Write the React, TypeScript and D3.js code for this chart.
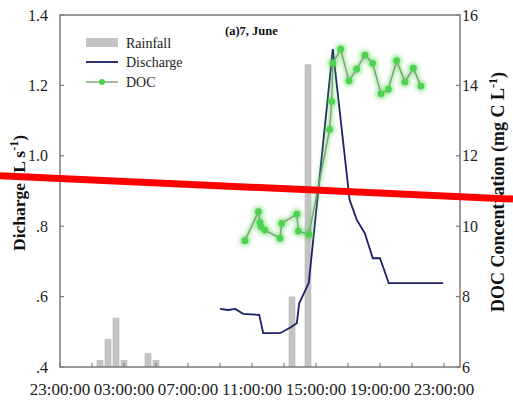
import React from "react";
import * as d3 from "d3";

// Hours are counted from midnight of 7 June; -1 is 23:00 of the day before.
const rainHours = [1.5, 2.0, 2.5, 3.0, 4.5, 5.0, 13.5, 14.5];
const rainMm = [0.2, 0.8, 1.4, 0.2, 0.4, 0.2, 2.0, 8.6];

const dischargeHours = [9.0, 9.5, 9.95, 10.45, 11.45, 11.7, 12.75, 13.4, 13.8, 13.95, 14.55, 16.05, 17.1, 17.55, 18.05, 18.55, 19.0, 19.55, 22.95];
const dischargeLs = [0.565, 0.562, 0.565, 0.551, 0.548, 0.496, 0.496, 0.512, 0.524, 0.581, 0.639, 1.303, 0.875, 0.818, 0.78, 0.709, 0.709, 0.638, 0.638];

const docHours = [10.56, 11.4, 11.5, 11.55, 11.8, 12.75, 12.86, 13.8, 13.9, 14.56, 15.85, 15.98, 16.05, 16.54, 17.06, 17.54, 18.06, 18.54, 19.06, 19.52, 20.04, 20.56, 21.08, 21.56];
const docMg = [9.59, 10.41, 10.11, 9.99, 9.89, 9.66, 10.08, 10.34, 9.86, 9.77, 12.75, 13.54, 14.63, 15.03, 14.13, 14.46, 14.86, 14.63, 13.76, 13.89, 14.7, 14.1, 14.49, 13.98];

const dischargeTicks = [0.4, 0.6, 0.8, 1.0, 1.2, 1.4];
const docTicks = [6, 8, 10, 12, 14, 16];
const hourTicks = [-1, 1, 3, 5, 7, 9, 11, 13, 15, 17, 19, 21, 23];
const hourLabels = [-1, 3, 7, 11, 15, 19, 23];

// Straight red marker line laid across the figure (hour, discharge)
const markerHours = [-4.75, 27.31];
const markerLs = [0.943, 0.877];

const W = 513;
const H = 404;
const M = { left: 60, right: 460, top: 15, bottom: 367 };
const SERIF = "'Liberation Serif', 'Times New Roman', serif";

export default function App() {
  const x = d3.scaleLinear().domain([-1, 24]).range([M.left, M.right]);
  const yQ = d3.scaleLinear().domain([0.4, 1.4]).range([M.bottom, M.top]);
  const yDoc = d3.scaleLinear().domain([6, 16]).range([M.bottom, M.top]);
  const yRain = d3.scaleLinear().domain([0, 10]).range([M.bottom, M.top]);

  const barW = x(0.42) - x(0);

  const qLine = d3
    .line<number>()
    .x((_, i) => x(dischargeHours[i]))
    .y((d) => yQ(d));
  const docLine = d3
    .line<number>()
    .x((_, i) => x(docHours[i]))
    .y((d) => yDoc(d));

  const fmtQ = (v: number) => v.toFixed(1).replace(/^0/, "");
  const fmtHour = (h: number) => `${String((h + 24) % 24).padStart(2, "0")}:00:00`;

  const frame = "#7a7a7a";
  const navy = "#1c2066";
  const green = "#4fd24f";

  return (
    <svg
      width={W}
      height={H}
      style={{ position: "absolute", left: 0, top: 0, background: "#fff" }}
      fontFamily={SERIF}
    >
      <defs>
        <filter id="glow" x="-10%" y="-10%" width="120%" height="120%">
          <feGaussianBlur stdDeviation="2.2" />
        </filter>
      </defs>

      {/* rainfall bars */}
      {rainMm.map((v, i) => (
        <rect
          key={`r${i}`}
          x={x(rainHours[i]) - barW / 2}
          y={yRain(v)}
          width={barW}
          height={yRain(0) - yRain(v)}
          fill="#c3c3c3"
        />
      ))}

      {/* discharge */}
      <path d={qLine(dischargeLs) ?? ""} fill="none" stroke={navy} strokeWidth={1.8} />

      {/* DOC with soft halo */}
      <g filter="url(#glow)" opacity={0.55}>
        <path d={docLine(docMg) ?? ""} fill="none" stroke={green} strokeWidth={4} />
        {docMg.map((v, i) => (
          <circle key={`g${i}`} cx={x(docHours[i])} cy={yDoc(v)} r={5.5} fill={green} />
        ))}
      </g>
      <path d={docLine(docMg) ?? ""} fill="none" stroke="#7e9e76" strokeWidth={1.4} />
      {docMg.map((v, i) => (
        <circle key={`d${i}`} cx={x(docHours[i])} cy={yDoc(v)} r={3.4} fill={green} />
      ))}

      {/* frame */}
      <rect
        x={M.left}
        y={M.top}
        width={M.right - M.left}
        height={M.bottom - M.top}
        fill="none"
        stroke={frame}
        strokeWidth={1.5}
      />

      {/* left axis */}
      {dischargeTicks.map((v) => (
        <g key={`lq${v}`}>
          <line x1={M.left} x2={M.left + 4} y1={yQ(v)} y2={yQ(v)} stroke={frame} strokeWidth={1.2} />
          <text x={48} y={yQ(v)} dy="0.35em" textAnchor="end" fontSize={16} fill="#222">
            {fmtQ(v)}
          </text>
        </g>
      ))}

      {/* right axis */}
      {docTicks.map((v) => (
        <g key={`rd${v}`}>
          <line x1={M.right - 4} x2={M.right} y1={yDoc(v)} y2={yDoc(v)} stroke={frame} strokeWidth={1.2} />
          <text x={M.right + 2} y={yDoc(v)} dy="0.35em" textAnchor="start" fontSize={16} fill="#222">
            {v}
          </text>
        </g>
      ))}

      {/* bottom axis */}
      {hourTicks.map((h) => (
        <line key={`bt${h}`} x1={x(h)} x2={x(h)} y1={M.bottom} y2={M.bottom - 4} stroke={frame} strokeWidth={1.2} />
      ))}
      {hourLabels.map((h) => (
        <text key={`bl${h}`} x={x(h)} y={395} textAnchor="middle" fontSize={17} fill="#222">
          {fmtHour(h)}
        </text>
      ))}

      {/* axis titles */}
      <text
        transform={`translate(25,193) rotate(-90)`}
        textAnchor="middle"
        fontSize={17.5}
        fontWeight="bold"
        fill="#111"
      >
        Dicharge (L s
        <tspan dy={-7} fontSize={12}>-1</tspan>
        <tspan dy={7}>)</tspan>
      </text>
      <text
        transform={`translate(504,192) rotate(-90)`}
        textAnchor="middle"
        fontSize={18}
        fontWeight="bold"
        fill="#111"
      >
        DOC Concentration (mg C L
        <tspan dy={-7} fontSize={12}>-1</tspan>
        <tspan dy={7}>)</tspan>
      </text>

      {/* panel title */}
      <text x={225} y={35} fontSize={12.5} fontWeight="bold" fill="#111">
        (a)7, June
      </text>

      {/* legend */}
      <rect x={86} y={38} width={32} height={9} fill="#c3c3c3" />
      <text x={126} y={48} fontSize={14} fill="#222">Rainfall</text>
      <line x1={86} x2={118} y1={62} y2={62} stroke={navy} strokeWidth={1.8} />
      <text x={126} y={67} fontSize={14} fill="#222">Discharge</text>
      <line x1={86} x2={118} y1={82} y2={82} stroke="#7e9e76" strokeWidth={1.4} />
      <circle cx={102} cy={82} r={3} fill={green} />
      <text x={126} y={87} fontSize={14} fill="#222">DOC</text>

      {/* red marker line */}
      <line
        x1={x(markerHours[0])}
        y1={yQ(markerLs[0])}
        x2={x(markerHours[1])}
        y2={yQ(markerLs[1])}
        stroke="#ff0000"
        strokeWidth={7}
      />
    </svg>
  );
}
